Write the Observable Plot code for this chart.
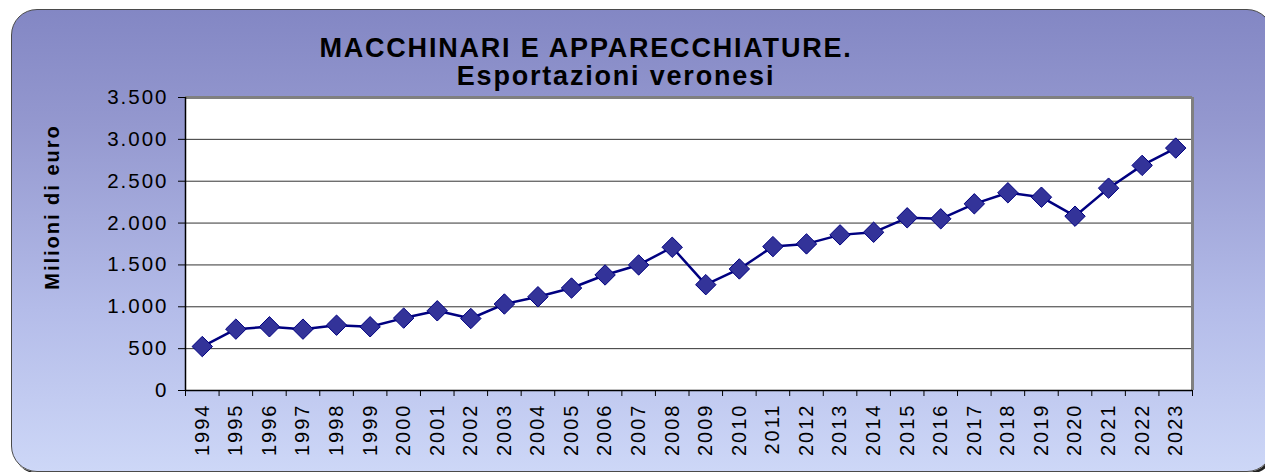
<!DOCTYPE html>
<html>
<head>
<meta charset="utf-8">
<script src="https://cdn.jsdelivr.net/npm/d3@7"></script>
<script src="https://cdn.jsdelivr.net/npm/@observablehq/plot@0.6"></script>
<style>
  html, body { margin: 0; padding: 0; background: #ffffff; }
  #wrap { position: relative; width: 1265px; height: 472px; overflow: hidden; font-family: "Liberation Sans", Arial, sans-serif; }
  #panel { position: absolute; left: 11px; top: 9px; width: 1260px; height: 461px;
    border: 1px solid #4a4a4a; border-radius: 26px;
    background: linear-gradient(to bottom, #8387c4 0%, #9498cf 25%, #b4bce9 65%, #cdd7f7 100%);
    box-shadow: 2px 2px 0 #222; }
  .t { position: absolute; left: 0; text-align: center; font-weight: bold; color: #000; white-space: nowrap; }
  #t1 { width: 1172px; top: 35px; font-size: 27px; line-height: 27px; letter-spacing: 1.8px; }
  #t2 { width: 1232px; top: 63px; font-size: 27px; line-height: 27px; letter-spacing: 1.8px; }
  #ylab { position: absolute; width: 300px; left: -98px; top: 197px; height: 20px; line-height: 20px;
    text-align: center; font-size: 20px; font-weight: bold; letter-spacing: 2px; transform: rotate(-90deg); transform-origin: center; white-space: nowrap; }
  #chart { position: absolute; left: 0; top: 0; }
</style>
</head>
<body>
<div id="wrap">
  <div id="panel"></div>
  <div id="chart"></div>
  <div class="t" id="t1">MACCHINARI E APPARECCHIATURE.</div>
  <div class="t" id="t2">Esportazioni veronesi</div>
  <div id="ylab">Milioni di euro</div>
</div>
<script>
const years = [1994, 1995, 1996, 1997, 1998, 1999, 2000, 2001, 2002, 2003,
               2004, 2005, 2006, 2007, 2008, 2009, 2010, 2011, 2012, 2013,
               2014, 2015, 2016, 2017, 2018, 2019, 2020, 2021, 2022, 2023];
const exportsMln = [525, 733, 761, 733, 780, 761, 865, 952, 860, 1033,
                    1120, 1224, 1380, 1500, 1711, 1264, 1452, 1719, 1751, 1859,
                    1890, 2063, 2051, 2230, 2362, 2309, 2082, 2417, 2689, 2896];
const yTicks = [0, 500, 1000, 1500, 2000, 2500, 3000, 3500];

const data = years.map((year, i) => ({year, value: exportsMln[i]}));
const itFmt = d3.formatLocale({decimal: ",", thousands: ".", grouping: [3], currency: ["", "€"]}).format(",");
const xLo = years[0] - 0.5, xHi = years[years.length - 1] + 0.5;
const bounds = years.map(y => y - 0.5).concat([xHi]);
const yMax = yTicks[yTicks.length - 1];
const font = "Liberation Sans, Arial, sans-serif";

const chart = Plot.plot({
  width: 1265,
  height: 472,
  marginLeft: 185,
  marginRight: 73,
  marginTop: 97,
  marginBottom: 82,
  style: {background: "transparent", overflow: "visible", fontFamily: font, letterSpacing: "2px", color: "#000"},
  x: {domain: [xLo, xHi]},
  y: {domain: [0, yMax]},
  marks: [
    Plot.frame({fill: "white", stroke: "none"}),
    Plot.gridY(yTicks.filter(t => t > 0 && t < yMax), {stroke: "#333", strokeOpacity: 1, strokeWidth: 1}),
    Plot.ruleY([yMax], {stroke: "#808080", strokeWidth: 3}),
    Plot.ruleX([xHi], {stroke: "#808080", strokeWidth: 3}),
    Plot.ruleX([xLo], {stroke: "#000", strokeWidth: 1.5}),
    Plot.ruleY([0], {stroke: "#000", strokeWidth: 1.5}),
    Plot.axisY({ticks: yTicks, tickSize: 7, tickPadding: 10, tickFormat: itFmt, fontSize: 20.5, stroke: "#000", label: null}),
    Plot.axisX({ticks: bounds, tickSize: 6, tickFormat: () => "", stroke: "#000", label: null}),
    Plot.axisX({ticks: years, tickSize: 0, tickPadding: 13, tickRotate: -90, tickFormat: d => String(d), fontSize: 20, label: null}),
    Plot.line(data, {x: "year", y: "value", stroke: "#000080", strokeWidth: 2.5}),
    Plot.dot(data, {x: "year", y: "value", symbol: "diamond2", r: 9.2, fill: "#333399", stroke: "#000080", strokeWidth: 1})
  ]
});
document.getElementById("chart").appendChild(chart);
</script>
</body>
</html>
